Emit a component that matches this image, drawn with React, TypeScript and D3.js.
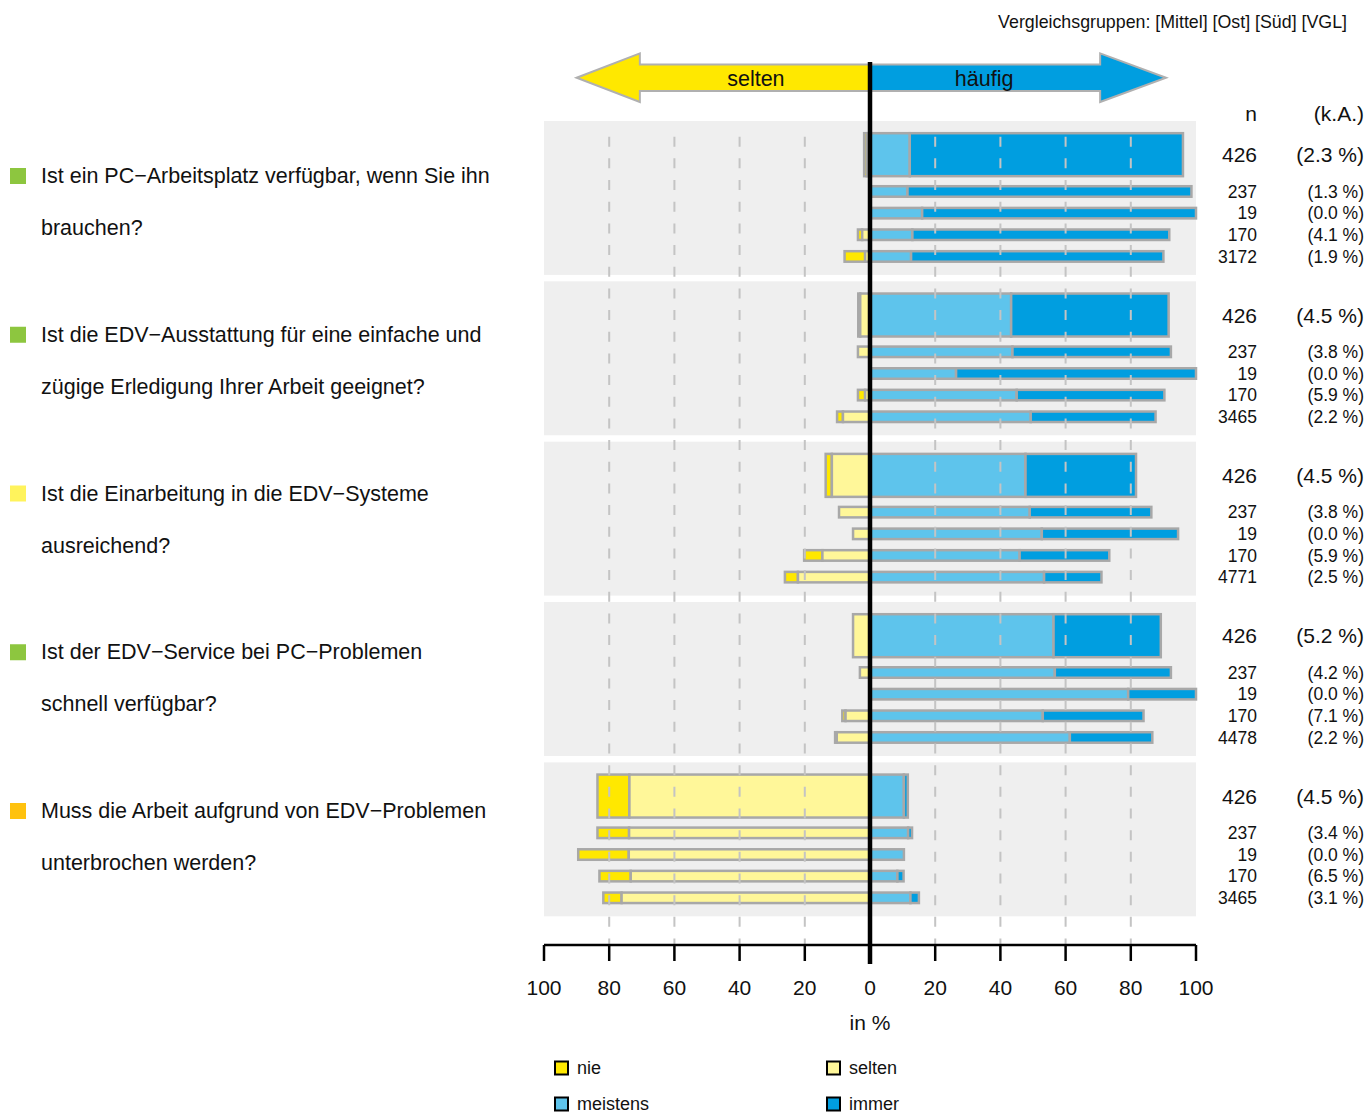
import React from "react";
import * as d3 from "d3";

// ---------- data ----------
const questionLines: string[][] = [
  ["Ist ein PC−Arbeitsplatz verfügbar, wenn Sie ihn", "brauchen?"],
  ["Ist die EDV−Ausstattung für eine einfache und", "zügige Erledigung Ihrer Arbeit geeignet?"],
  ["Ist die Einarbeitung in die EDV−Systeme", "ausreichend?"],
  ["Ist der EDV−Service bei PC−Problemen", "schnell verfügbar?"],
  ["Muss die Arbeit aufgrund von EDV−Problemen", "unterbrochen werden?"],
];
const questionColors = ["#8dc63f", "#8dc63f", "#fff35c", "#8dc63f", "#ffc20e"];

const nValues: number[][] = [
  [426, 237, 19, 170, 3172],
  [426, 237, 19, 170, 3465],
  [426, 237, 19, 170, 4771],
  [426, 237, 19, 170, 4478],
  [426, 237, 19, 170, 3465],
];
const kaValues: number[][] = [
  [2.3, 1.3, 0.0, 4.1, 1.9],
  [4.5, 3.8, 0.0, 5.9, 2.2],
  [4.5, 3.8, 0.0, 5.9, 2.5],
  [5.2, 4.2, 0.0, 7.1, 2.2],
  [4.5, 3.4, 0.0, 6.5, 3.1],
];
const nie: number[][] = [
  [0.8, 0, 0, 1.3, 6.3],
  [0.6, 0, 0, 2.2, 1.8],
  [1.9, 0, 0, 5.6, 4.0],
  [0, 0, 0, 1.0, 0.5],
  [9.8, 9.7, 15.5, 9.6, 5.6],
];
const selten: number[][] = [
  [1.0, 0, 0, 2.4, 1.5],
  [3.0, 3.7, 0, 1.5, 8.3],
  [11.7, 9.5, 5.2, 14.6, 22.1],
  [5.2, 3.1, 0, 7.5, 10.2],
  [73.8, 73.9, 74.0, 73.4, 76.2],
];
const meistens: number[][] = [
  [12.2, 11.5, 16.0, 13.0, 12.6],
  [43.3, 43.7, 26.4, 45.0, 49.3],
  [47.7, 49.0, 52.7, 45.9, 53.4],
  [56.3, 56.7, 79.2, 53.0, 61.3],
  [10.4, 11.7, 10.4, 8.4, 12.4],
];
const immer: number[][] = [
  [83.8, 87.1, 84.0, 78.8, 77.4],
  [48.3, 48.6, 73.6, 45.3, 38.3],
  [33.9, 37.3, 41.8, 27.5, 17.6],
  [32.9, 35.6, 20.8, 30.9, 25.3],
  [1.2, 1.2, 0, 1.9, 2.6],
];

const xTicks = [-100, -80, -60, -40, -20, 0, 20, 40, 60, 80, 100];
const gridValues = [-80, -60, -40, -20, 20, 40, 60, 80];
const legendItems = [
  { label: "nie", color: "#ffe800" },
  { label: "selten", color: "#fff799" },
  { label: "meistens", color: "#5ec4ec" },
  { label: "immer", color: "#009ee0" },
];
const colNie = "#ffe800";
const colSelten = "#fff799";
const colMeistens = "#5ec4ec";
const colImmer = "#009ee0";

const FONT = "'Liberation Sans', Arial, Helvetica, sans-serif";
const BORDER = "#a8a8a8";

export default function App() {
  const W = 1369;
  const H = 1113;
  const x = d3.scaleLinear().domain([-100, 100]).range([544, 1196]);
  const groups = d3.range(questionLines.length);
  const yBand = d3
    .scaleBand<number>()
    .domain(groups)
    .range([121, 916.3])
    .paddingInner(0.04);
  const bw = yBand.bandwidth();
  const rowY = d3.scaleLinear().domain([0, 1]).range([0, bw]);
  const mainTop = 12.2 / 154;
  const mainH = 43 / 154;
  const smallCenters = [70.5 / 154, 92.2 / 154, 113.8 / 154, 135.5 / 154];
  const smallH = 10.5 / 154;
  const labelY = (i: number) => 176 + i * 158.75;

  const bars: JSX.Element[] = [];
  groups.forEach((g) => {
    const top = yBand(g)!;
    for (let r = 0; r < 5; r++) {
      let y0: number, h: number;
      if (r === 0) {
        y0 = top + rowY(mainTop);
        h = rowY(mainH);
      } else {
        h = rowY(smallH);
        y0 = top + rowY(smallCenters[r - 1]) - h / 2;
      }
      const segs = [
        { a: -selten[g][r] - nie[g][r], b: -selten[g][r], c: colNie },
        { a: -selten[g][r], b: 0, c: colSelten },
        { a: 0, b: meistens[g][r], c: colMeistens },
        { a: meistens[g][r], b: meistens[g][r] + immer[g][r], c: colImmer },
      ];
      segs.forEach((s, k) => {
        if (s.b - s.a <= 0) return;
        bars.push(
          <rect
            key={`b${g}-${r}-${k}`}
            x={x(s.a)}
            y={y0}
            width={x(s.b) - x(s.a)}
            height={h}
            fill={s.c}
            stroke={BORDER}
            strokeWidth={2.5}
          />
        );
      });
    }
  });

  const arrowY = 77.7;
  const shaftHalf = 13.3;
  const headHalf = 24.3;
  const leftArrow = [
    [x(-90), arrowY],
    [x(-70.6), arrowY - headHalf],
    [x(-70.6), arrowY - shaftHalf],
    [x(0), arrowY - shaftHalf],
    [x(0), arrowY + shaftHalf],
    [x(-70.6), arrowY + shaftHalf],
    [x(-70.6), arrowY + headHalf],
  ];
  const rightArrow = [
    [x(90.8), arrowY],
    [x(70.6), arrowY - headHalf],
    [x(70.6), arrowY - shaftHalf],
    [x(0), arrowY - shaftHalf],
    [x(0), arrowY + shaftHalf],
    [x(70.6), arrowY + shaftHalf],
    [x(70.6), arrowY + headHalf],
  ];
  const pts = (p: number[][]) => p.map((q) => q.join(",")).join(" ");

  return (
    <svg
      width={W}
      height={H}
      style={{ position: "absolute", left: 0, top: 0, fontFamily: FONT }}
    >
      <rect x={0} y={0} width={W} height={H} fill="#ffffff" />
      <text x={1347} y={28} fontSize={17.8} textAnchor="end" fill="#111">
        Vergleichsgruppen: [Mittel] [Ost] [Süd] [VGL]
      </text>

      {/* arrows */}
      <polygon points={pts(leftArrow)} fill="#ffe800" stroke="#b0b0b0" strokeWidth={2} />
      <polygon points={pts(rightArrow)} fill="#009ee0" stroke="#b0b0b0" strokeWidth={2} />
      <text x={x(-35)} y={arrowY + 8} fontSize={21.5} textAnchor="middle" fill="#111">
        selten
      </text>
      <text x={x(35)} y={arrowY + 8} fontSize={21.5} textAnchor="middle" fill="#111">
        häufig
      </text>

      {/* header */}
      <text x={1257} y={121} fontSize={21} textAnchor="end" fill="#111">n</text>
      <text x={1364} y={121} fontSize={21} textAnchor="end" fill="#111">(k.A.)</text>

      {/* panels */}
      {groups.map((g) => (
        <rect key={`p${g}`} x={x(-100)} y={yBand(g)!} width={x(100) - x(-100)} height={bw} fill="#efefef" />
      ))}

      {bars}

      {/* grid lines */}
      {gridValues.map((v) => (
        <line
          key={`gl${v}`}
          x1={x(v)}
          x2={x(v)}
          y1={136.7}
          y2={945}
          stroke="#c4c4c4"
          strokeWidth={2}
          strokeDasharray="10 11.67"
        />
      ))}

      {/* axis */}
      <line x1={x(-100)} x2={x(100)} y1={945} y2={945} stroke="#000" strokeWidth={2.5} />
      {xTicks.map((t) => (
        <g key={`t${t}`}>
          <line x1={x(t)} x2={x(t)} y1={945} y2={961} stroke="#000" strokeWidth={2.5} />
          <text x={x(t)} y={995} fontSize={21} textAnchor="middle" fill="#111">
            {Math.abs(t)}
          </text>
        </g>
      ))}
      <text x={x(0)} y={1030} fontSize={21} textAnchor="middle" fill="#111">in %</text>

      {/* zero line */}
      <line x1={x(0)} x2={x(0)} y1={62} y2={964} stroke="#000" strokeWidth={4.5} />

      {/* right labels */}
      {groups.map((g) => {
        const top = yBand(g)!;
        return (
          <g key={`r${g}`}>
            {nValues[g].map((n, r) => {
              const cy =
                r === 0
                  ? top + rowY(mainTop) + rowY(mainH) / 2
                  : top + rowY(smallCenters[r - 1]);
              const fs = r === 0 ? 21 : 17.5;
              return (
                <g key={`rl${g}-${r}`}>
                  <text x={1257} y={cy + fs * 0.36} fontSize={fs} textAnchor="end" fill="#111">
                    {n}
                  </text>
                  <text x={1364} y={cy + fs * 0.36} fontSize={fs} textAnchor="end" fill="#111">
                    ({kaValues[g][r].toFixed(1)} %)
                  </text>
                </g>
              );
            })}
          </g>
        );
      })}

      {/* left labels */}
      {groups.map((g) => (
        <g key={`l${g}`}>
          <rect x={10} y={labelY(g) - 8} width={16} height={16} fill={questionColors[g]} />
          {questionLines[g].map((line, k) => (
            <text key={k} x={41} y={labelY(g) + k * 52 + 7} fontSize={21.5} fill="#111">
              {line}
            </text>
          ))}
        </g>
      ))}

      {/* legend */}
      {legendItems.map((it, i) => {
        const col = i % 2;
        const row = Math.floor(i / 2);
        const lx = col === 0 ? 555 : 827;
        const ly = 1068 + row * 36;
        return (
          <g key={`lg${i}`}>
            <rect x={lx} y={ly - 6.5} width={13} height={13} fill={it.color} stroke="#000" strokeWidth={2} />
            <text x={lx + 22} y={ly + 6.3} fontSize={18} fill="#111">
              {it.label}
            </text>
          </g>
        );
      })}
    </svg>
  );
}
